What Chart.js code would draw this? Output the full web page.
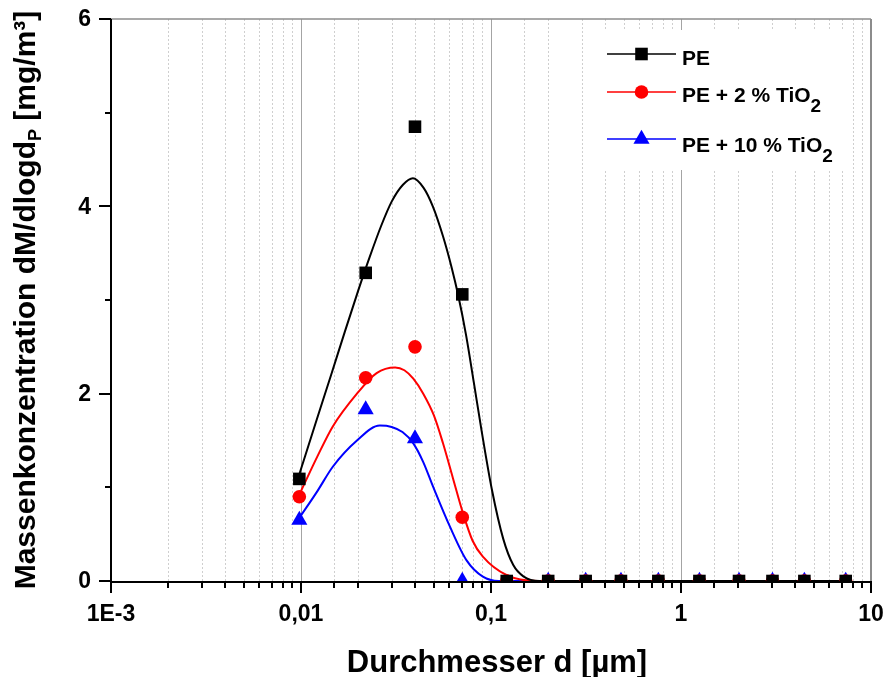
<!DOCTYPE html>
<html>
<head>
<meta charset="utf-8">
<script src="https://cdn.jsdelivr.net/npm/chart.js"></script>
<style>
  html, body { margin: 0; padding: 0; background: #fff; }
  #wrap { width: 889px; height: 677px; position: relative; }
</style>
</head>
<body>
<div id="wrap"><canvas id="myChart"></canvas></div>
<script>
// measured points (diameter in µm)
const diameter = [0.0098, 0.0219, 0.0398, 0.0706, 0.121, 0.200, 0.315, 0.483, 0.760, 1.25, 2.02, 3.03, 4.46, 7.36];
const pe      = [1.09, 3.29, 4.85, 3.06, 0, 0, 0, 0, 0, 0, 0, 0, 0, 0];
const peTi2   = [0.90, 2.17, 2.50, 0.68, 0, 0, 0, 0, 0, 0, 0, 0, 0, 0];
const peTi10  = [0.65, 1.83, 1.52, 0, null, 0, 0, 0, 0, 0, 0, 0, 0, 0];

// fitted curves
const peFitX     = [0.0098, 0.0120, 0.0144, 0.0170, 0.0200, 0.0230, 0.0264, 0.0300, 0.0344, 0.0388, 0.0441, 0.0494, 0.0559, 0.0620, 0.0672, 0.0740, 0.0812, 0.0893, 0.101, 0.116, 0.131, 0.148, 0.180, 7.4];
const peFitY     = [1.14, 1.70, 2.20, 2.66, 3.10, 3.46, 3.79, 4.05, 4.23, 4.30, 4.20, 4.00, 3.68, 3.35, 3.05, 2.62, 2.12, 1.60, 0.98, 0.45, 0.17, 0.05, 0, 0];
const peTi2FitX  = [0.0100, 0.0122, 0.0147, 0.0197, 0.0250, 0.0313, 0.0350, 0.0390, 0.0440, 0.0500, 0.0559, 0.0630, 0.0713, 0.0800, 0.0906, 0.1206, 0.175, 7.4];
const peTi2FitY  = [0.96, 1.33, 1.65, 2.00, 2.22, 2.28, 2.25, 2.16, 2.00, 1.77, 1.47, 1.10, 0.72, 0.43, 0.26, 0.064, 0, 0];
const peTi10FitX = [0.0100, 0.0122, 0.0147, 0.0197, 0.0260, 0.0300, 0.0342, 0.0390, 0.0440, 0.0495, 0.0608, 0.0744, 0.0906, 0.110, 7.4];
const peTi10FitY = [0.70, 0.96, 1.22, 1.50, 1.66, 1.645, 1.59, 1.47, 1.27, 1.01, 0.58, 0.22, 0.046, 0, 0];

// axis labels
const xLabelValues = [0.001, 0.01, 0.1, 1, 10];
const xLabelTexts  = ['1E-3', '0,01', '0,1', '1', '10'];
const yLabelValues = [0, 2, 4, 6];

const seriesNames  = [['PE', ''], ['PE + 2 % TiO', '2'], ['PE + 10 % TiO', '2']];
const seriesColors = ['#000000', '#ff0000', '#0000ff'];
const seriesShapes = [['rect', 8.9], ['circle', 6.8], ['triangle', 9.3]];

const FONT = "'Liberation Sans', Arial, sans-serif";
Chart.defaults.font.family = FONT;
Chart.defaults.color = '#000';

function zip(xs, ys) {
    return xs.map((x, i) => ({ x: x, y: ys[i] }));
}

function isDecade(v) {
    const l = Math.log10(v);
    return Math.abs(l - Math.round(l)) < 1e-6;
}

function markerSet(ys, i) {
    return {
        data: zip(diameter, ys),
        showLine: false,
        pointStyle: seriesShapes[i][0],
        pointRadius: seriesShapes[i][1],
        pointHoverRadius: seriesShapes[i][1],
        pointBackgroundColor: seriesColors[i],
        pointBorderColor: seriesColors[i],
        pointBorderWidth: 0,
        clip: 0
    };
}

function fitSet(xs, ys, i) {
    return {
        data: zip(xs, ys),
        showLine: true,
        borderColor: seriesColors[i],
        borderWidth: 2,
        pointRadius: 0,
        fill: false,
        cubicInterpolationMode: 'monotone'
    };
}

const framePlugin = {
    id: 'frame',
    beforeDatasetsDraw(chart) {
        const { ctx, chartArea: a, scales: { x, y } } = chart;
        ctx.save();
        // vertical grid
        x.ticks.forEach(t => {
            const px = Math.round(x.getPixelForValue(t.value)) + 0.5;
            if (px <= a.left + 2 || px >= a.right - 2) return;
            const major = isDecade(t.value);
            ctx.beginPath();
            ctx.setLineDash(major ? [] : [2, 2]);
            ctx.strokeStyle = major ? '#a4a4a4' : '#cfcfcf';
            ctx.lineWidth = 1;
            ctx.moveTo(px, a.top);
            ctx.lineTo(px, a.bottom);
            ctx.stroke();
        });
        ctx.setLineDash([]);

        // top + right frame
        ctx.strokeStyle = '#8c8c8c';
        ctx.lineWidth = 1.5;
        ctx.beginPath();
        ctx.moveTo(a.left, a.top);
        ctx.lineTo(a.right, a.top);
        ctx.stroke();
        ctx.lineWidth = 2;
        ctx.beginPath();
        ctx.moveTo(a.right, a.top);
        ctx.lineTo(a.right, a.bottom);
        ctx.stroke();

        // axes
        ctx.strokeStyle = '#000';
        ctx.lineWidth = 2;
        ctx.beginPath();
        ctx.moveTo(a.left, a.top);
        ctx.lineTo(a.left, a.bottom + 1);
        ctx.lineTo(a.right + 1, a.bottom + 1);
        ctx.stroke();

        // tick marks
        x.ticks.forEach(t => {
            const px = Math.round(x.getPixelForValue(t.value));
            const len = isDecade(t.value) ? 12 : 7;
            ctx.beginPath();
            ctx.moveTo(px, a.bottom);
            ctx.lineTo(px, a.bottom + len);
            ctx.stroke();
        });
        y.ticks.forEach(t => {
            const py = Math.round(y.getPixelForValue(t.value));
            const len = yLabelValues.includes(t.value) ? 12 : 6;
            ctx.beginPath();
            ctx.moveTo(a.left, py);
            ctx.lineTo(a.left - len, py);
            ctx.stroke();
        });

        // tick labels
        ctx.fillStyle = '#000';
        ctx.font = 'bold 23px ' + FONT;
        ctx.textAlign = 'center';
        ctx.textBaseline = 'alphabetic';
        xLabelValues.forEach((v, k) => {
            ctx.fillText(xLabelTexts[k], x.getPixelForValue(v), 621);
        });
        ctx.textAlign = 'right';
        ctx.textBaseline = 'middle';
        yLabelValues.forEach(v => {
            ctx.fillText(String(v), a.left - 20, y.getPixelForValue(v) + 1);
        });
        ctx.restore();
    },
    afterDraw(chart) {
        const ctx = chart.ctx;
        ctx.save();

        // legend
        ctx.fillStyle = '#fff';
        ctx.fillRect(600, 30, 250, 140);
        const rows = [[54, 65], [92, 102], [139, 152]];
        rows.forEach((r, i) => {
            ctx.strokeStyle = seriesColors[i];
            ctx.fillStyle = seriesColors[i];
            ctx.lineWidth = 1.5;
            ctx.beginPath();
            ctx.moveTo(607, r[0]);
            ctx.lineTo(676, r[0]);
            ctx.stroke();
            Chart.helpers.drawPoint(ctx, {
                pointStyle: seriesShapes[i][0],
                radius: seriesShapes[i][1],
                rotation: 0,
                borderWidth: 0
            }, 641.5, r[0]);
            ctx.fillStyle = '#000';
            ctx.textBaseline = 'alphabetic';
            ctx.textAlign = 'left';
            ctx.font = 'bold 21px ' + FONT;
            ctx.fillText(seriesNames[i][0], 682, r[1]);
            if (seriesNames[i][1]) {
                const w = ctx.measureText(seriesNames[i][0]).width;
                ctx.font = 'bold 19px ' + FONT;
                ctx.fillText(seriesNames[i][1], 682 + w, r[1] + 10);
            }
        });

        // x title
        ctx.fillStyle = '#000';
        ctx.font = 'bold 31px ' + FONT;
        ctx.textAlign = 'center';
        ctx.textBaseline = 'alphabetic';
        ctx.fillText('Durchmesser d [µm]', 497, 672);

        // y title with subscript
        const parts = [
            ['Massenkonzentration dM/dlogd', 'bold 30px ', 0],
            ['P', 'bold 18px ', 6],
            [' [mg/m³]', 'bold 30px ', 0]
        ];
        ctx.translate(35, 300);
        ctx.rotate(-Math.PI / 2);
        ctx.textAlign = 'left';
        let total = 0;
        parts.forEach(p => { ctx.font = p[1] + FONT; total += ctx.measureText(p[0]).width; });
        let cx = -total / 2;
        parts.forEach(p => {
            ctx.font = p[1] + FONT;
            ctx.fillText(p[0], cx, p[2]);
            cx += ctx.measureText(p[0]).width;
        });
        ctx.restore();
    }
};

const ctx = document.getElementById('myChart').getContext('2d');
const myChart = new Chart(ctx, {
    type: 'scatter',
    data: {
        datasets: [
            markerSet(pe, 0),
            markerSet(peTi2, 1),
            markerSet(peTi10, 2),
            fitSet(peFitX, peFitY, 0),
            fitSet(peTi2FitX, peTi2FitY, 1),
            fitSet(peTi10FitX, peTi10FitY, 2)
        ]
    },
    options: {
        responsive: true,
        maintainAspectRatio: false,
        animation: false,
        layout: { padding: { top: 19, right: 18, left: 0, bottom: 0 } },
        plugins: {
            legend: { display: false },
            tooltip: { enabled: false }
        },
        scales: {
            x: {
                type: 'logarithmic',
                position: 'bottom',
                min: 0.001,
                max: 10,
                border: { display: false },
                grid: { display: false },
                ticks: { display: false, autoSkip: false },
                afterFit: function (s) { s.height = 96; }
            },
            y: {
                min: 0,
                max: 6,
                border: { display: false },
                grid: { display: false },
                ticks: { display: false, stepSize: 1 },
                afterFit: function (s) { s.width = 111; }
            }
        }
    },
    plugins: [framePlugin]
});
</script>
</body>
</html>
